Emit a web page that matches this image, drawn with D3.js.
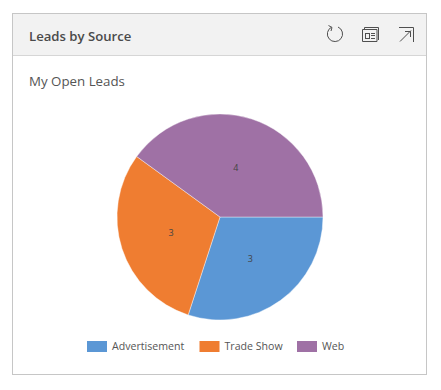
<!DOCTYPE html>
<html><head><meta charset="utf-8">
<script src="https://cdn.jsdelivr.net/npm/d3@7/dist/d3.min.js"></script>
<style>html,body{margin:0;padding:0;background:#fff}svg{display:block}</style>
</head><body><svg id="c" width="441" height="390"></svg>
<script>
const categories = ["Advertisement", "Trade Show", "Web"];
const values = [3, 3, 4];
const colors = ["#5b97d5", "#ef7d31", "#9f71a5"];
const title = "Leads by Source";
const subtitle = "My Open Leads";

const svg = d3.select("#c");
const font = "'Open Sans', sans-serif";
svg.append("rect").attr("x",12.5).attr("y",13.5).attr("width",414).attr("height",361).attr("fill","#fff").attr("stroke","#c6c6c6");
svg.append("rect").attr("x",13).attr("y",14).attr("width",413).attr("height",41).attr("fill","#f2f2f2");
svg.append("line").attr("x1",13).attr("x2",426).attr("y1",55.5).attr("y2",55.5).attr("stroke","#d6d6d6");
svg.append("text").attr("x",29).attr("y",41).attr("font-family",font).attr("font-size",13.15).attr("font-weight",600).attr("fill","#4a4a4a").text(title);
svg.append("text").attr("x",29).attr("y",86).attr("font-family",font).attr("font-size",13.3).attr("fill","#555").text(subtitle);

// header icons
const ic = svg.append("g").attr("fill","none").attr("stroke","#4f4f4f").attr("stroke-width",1);
ic.append("path").attr("d","M331.5 27.2 A7.6 7.6 0 1 0 338 27");
ic.append("path").attr("d","M328.5 25.5 L332 27.5 L331 31");
ic.append("path").attr("d","M362.5 41.5 V29.5 H377 V41.5 Z");
ic.append("path").attr("d","M364.5 29 V27.5 H378.5 V40");
ic.append("rect").attr("x",365.5).attr("y",33.5).attr("width",4).attr("height",5);
ic.append("path").attr("d","M371 33.5 H375 M371 35.5 H375 M371 38.5 H375");
ic.append("path").attr("d","M399 27.5 H413.5 V42 M400 41.5 L411 30.5 M405 31.5 H410.5 V37");

// pie
const cx = 220, cy = 217, r = 103;
const pie = d3.pie().value(d=>d).sort(null).startAngle(Math.PI/2).endAngle(Math.PI*2.5);
const arc = d3.arc().innerRadius(0).outerRadius(r);
const label = d3.arc().innerRadius(r*0.5).outerRadius(r*0.5);
const g = svg.append("g").attr("transform",`translate(${cx},${cy})`);
const arcs = pie(values);
g.selectAll("path").data(arcs).join("path").attr("d",arc).attr("fill",(d,i)=>colors[i]).attr("stroke","#fff").attr("stroke-width",0.4);
g.selectAll("text").data(arcs).join("text").attr("transform",d=>`translate(${label.centroid(d)})`)
 .attr("text-anchor","middle").attr("dy","0.35em").attr("font-family",font).attr("font-size",9).attr("fill","#444").text(d=>d.data);

// legend
const lx = [87, 199.5, 297];
const lg = svg.append("g");
categories.forEach((c,i)=>{
  lg.append("rect").attr("x",lx[i]).attr("y",341).attr("width",20).attr("height",11).attr("fill",colors[i]);
  lg.append("text").attr("x",lx[i]+25).attr("y",350).attr("font-family",font).attr("font-size",10.6).attr("fill","#555").text(c);
});
</script></body></html>
